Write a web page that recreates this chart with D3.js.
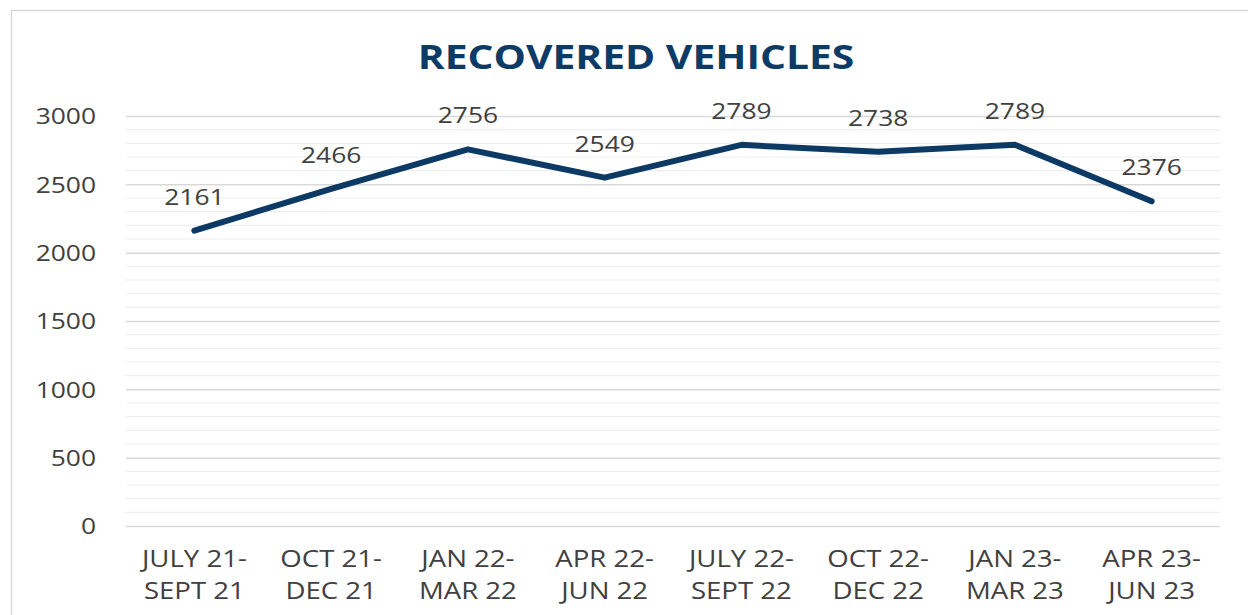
<!DOCTYPE html>
<html>
<head>
<meta charset="utf-8">
<script src="https://cdn.jsdelivr.net/npm/d3@7"></script>
<style>
  html, body { margin: 0; padding: 0; background: #fff; }
  svg { display: block; }
  text { font-family: "Open Sans", "Noto Sans", sans-serif; }
</style>
</head>
<body>
<svg id="chart" width="1248" height="615"></svg>
<script>
const title = "RECOVERED VEHICLES";
const categories = [
  ["JULY 21-", "SEPT 21"],
  ["OCT 21-", "DEC 21"],
  ["JAN 22-", "MAR 22"],
  ["APR 22-", "JUN 22"],
  ["JULY 22-", "SEPT 22"],
  ["OCT 22-", "DEC 22"],
  ["JAN 23-", "MAR 23"],
  ["APR 23-", "JUN 23"]
];
const values = [2161, 2466, 2756, 2549, 2789, 2738, 2789, 2376];
const yTicks = [0, 500, 1000, 1500, 2000, 2500, 3000];
const yMinorTicks = d3.range(0, 3001, 100);

(function () {
const W = 1248, H = 615;
const pLeft = 126, pRight = 1220, pTop = 116, pBottom = 526;
const SX = 1.2;
const textColor = "#404040";
const navy = "#0c3a64";

const svg = d3.select("#chart");

// outer border
svg.append("rect").attr("x", 11.5).attr("y", 10.5).attr("width", W).attr("height", H)
  .attr("fill", "none").attr("stroke", "#d9d9d9").attr("stroke-width", 1.5);

const x = d3.scaleBand().domain(d3.range(categories.length)).range([pLeft, pRight]);
const y = d3.scaleLinear().domain([0, 3000]).range([pBottom, pTop]);

// minor gridlines
svg.append("g").selectAll("line").data(yMinorTicks.filter(v => v % 500 !== 0)).join("line")
  .attr("x1", pLeft).attr("x2", pRight)
  .attr("y1", d => y(d)).attr("y2", d => y(d))
  .attr("stroke", "#eeeeee").attr("stroke-width", 1.2);

// y axis with major gridlines
const yAxis = svg.append("g").attr("transform", `translate(${pLeft},0)`)
  .call(d3.axisLeft(y).tickValues(yTicks).tickFormat(d3.format("d"))
    .tickSize(-(pRight - pLeft)).tickPadding(0));
yAxis.select(".domain").remove();
yAxis.selectAll(".tick line").attr("stroke", "#d9d9d9").attr("stroke-width", 1.5);
yAxis.selectAll(".tick text")
  .attr("x", -30 / SX).attr("dy", "0.36em")
  .attr("transform", `scale(${SX},1)`)
  .attr("fill", textColor).style("font-size", "22px").style("font-family", '"Open Sans", sans-serif');

// x axis labels
const xAxis = svg.append("g").attr("transform", `translate(0,${pBottom})`)
  .call(d3.axisBottom(x).tickSize(0).tickFormat(""));
xAxis.select(".domain").remove();
xAxis.selectAll(".tick").each(function(d) {
  const g = d3.select(this).append("g").attr("transform", `scale(${SX},1)`);
  categories[d].forEach((line, i) => {
    g.append("text").attr("x", 0).attr("y", 41 + i * 32)
      .attr("text-anchor", "middle").attr("fill", textColor)
      .style("font-size", "23px").text(line);
  });
});

// line
const cx = i => x(i) + x.bandwidth() / 2;
const line = d3.line().x((d, i) => cx(i)).y(d => y(d));
svg.append("path").datum(values)
  .attr("d", line).attr("fill", "none")
  .attr("stroke", navy).attr("stroke-width", 6)
  .attr("stroke-linejoin", "round").attr("stroke-linecap", "round");

// value labels
svg.append("g").selectAll("g").data(values).join("g")
  .attr("transform", (d, i) => `translate(${cx(i)},${y(d) - 26}) scale(${SX},1)`)
  .append("text").attr("text-anchor", "middle").attr("fill", textColor)
  .style("font-size", "22px").text(d => d);

// title
svg.append("g").attr("transform", `translate(636,69) scale(${SX},1)`)
  .append("text").attr("text-anchor", "middle").attr("fill", "#0d3b66")
  .style("font-size", "34px").style("font-weight", "700").text(title);
})();
</script>
</body>
</html>
